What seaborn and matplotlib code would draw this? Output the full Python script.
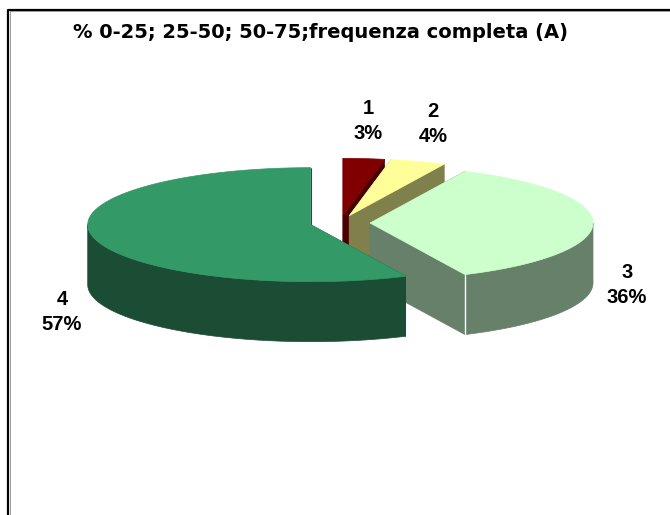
import numpy as np
import matplotlib
matplotlib.use("Agg")
import matplotlib.pyplot as plt
from matplotlib.patches import Polygon
import seaborn as sns

# ---- data ----
categories = ["1", "2", "3", "4"]
values = [3, 4, 36, 57]
pct_labels = ["3%", "4%", "36%", "57%"]
title = "% 0-25; 25-50; 50-75;frequenza completa (A)"

top_colors = ["#800000", "#FFFF99", "#CCFFCC", "#339966"]
side_colors = ["#4A0000", "#80804D", "#66806A", "#1B4D34"]

sns.set_theme(style="white")
plt.rcParams["font.family"] = ["Liberation Sans", "DejaVu Sans"]

W, H = 670, 515
fig = plt.figure(figsize=(W / 100, H / 100), dpi=100)
ax = fig.add_axes([0, 0, 1, 1])
ax.set_xlim(0, W)
ax.set_ylim(H, 0)
ax.axis("off")

# frame (cropped chart area)
ax.plot([8, 8, W + 5], [H + 5, 9.5, 9.5], color="black", lw=1.6, solid_capstyle="butt")
ax.plot([9.6, 9.6], [H + 5, 11], color="#9a9a9a", lw=0.7)
ax.plot([9.6, W + 5], [11.1, 11.1], color="#9a9a9a", lw=0.7)

# 3D pie geometry (layout)
cx, cy = 340.0, 223.0
rx, ry = 223.0, 57.0
depth = 60.0
explode = 30.0

vals = np.array(values, dtype=float)
fr = vals / vals.sum()
ends = np.cumsum(fr) * 360.0
starts = ends - fr * 360.0
mids = (starts + ends) / 2


def rim(ox, oy, a_deg, dz=0.0):
    a = np.radians(a_deg)
    return ox + rx * np.sin(a), oy - ry * np.cos(a) + dz


order = np.argsort(-np.cos(np.radians(mids)))
for i in order:
    s, e, m = starts[i], ends[i], mids[i]
    ox = cx + explode * np.sin(np.radians(m))
    oy = cy - explode * (ry / rx) * np.cos(np.radians(m))
    faces = []
    # cut faces: start face visible if sin(s)<0, end face if sin(e)>0
    for ang, vis in ((s, np.sin(np.radians(s)) < -1e-9), (e, np.sin(np.radians(e)) > 1e-9)):
        x1, y1 = rim(ox, oy, ang)
        quad = [(ox, oy), (x1, y1), (x1, y1 + depth), (ox, oy + depth)]
        faces.append((vis, quad))
    for vis, quad in sorted(faces, key=lambda t: t[0]):
        ax.add_patch(Polygon(quad, closed=True, facecolor=side_colors[i],
                             edgecolor=side_colors[i], lw=0.5))
    # outer wall (front half: 90..270 deg)
    w0, w1 = max(s, 90.0), min(e, 270.0)
    if w1 > w0:
        aa = np.linspace(w0, w1, 120)
        xs, ys = rim(ox, oy, aa)
        pts = list(zip(xs, ys)) + list(zip(xs[::-1], ys[::-1] + depth))
        ax.add_patch(Polygon(pts, closed=True, facecolor=side_colors[i],
                             edgecolor=side_colors[i], lw=0.5))
    # top face
    aa = np.linspace(s, e, 200)
    xs, ys = rim(ox, oy, aa)
    pts = [(ox, oy)] + list(zip(xs, ys))
    ax.add_patch(Polygon(pts, closed=True, facecolor=top_colors[i],
                         edgecolor=top_colors[i], lw=0.5))
    if i == 2:
        xe, ye = rim(ox, oy, e)
        ax.plot([xe, xe], [ye, ye + depth], color="white", lw=1.0)

# labels (layout positions)
label_pos = [(368, 121), (433, 124), (627, 285), (62, 312)]
for (lx, ly), c, p in zip(label_pos, categories, pct_labels):
    ax.text(lx, ly, f"{c}\n{p}", ha="center", va="center", fontsize=14.5,
            fontweight="bold", color="black", linespacing=1.45)

ax.text(73, 32.5, title, ha="left", va="center", fontsize=14.0, fontweight="bold",
        color="black", family=["DejaVu Sans"])

fig.savefig("out.png", dpi=100)
